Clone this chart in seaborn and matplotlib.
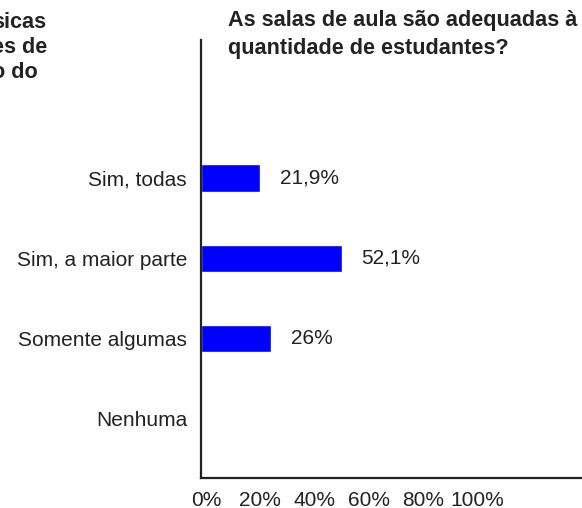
import pandas as pd
import seaborn as sns
import matplotlib.pyplot as plt
import matplotlib.transforms as mtransforms

# data
categories = ['Sim, todas', 'Sim, a maior parte', 'Somente algumas', 'Nenhuma']
percent = [21.9, 52.1, 26.0, 0.0]
value_labels = ['21,9%', '52,1%', '26%', '']
x_ticks = [0, 20, 40, 60, 80, 100]
x_tick_labels = ['0%', '20%', '40%', '60%', '80%', '100%']

title = 'As salas de aula são adequadas à\nquantidade de estudantes?'
# neighbouring chart's title, cut off at the left edge
clipped_title = 'sicas\nes de\no do'

df = pd.DataFrame({'categoria': categories, 'valor': percent})

sns.set_theme(style='white')
plt.rcParams['font.family'] = ['Liberation Sans', 'DejaVu Sans']
text_color = '#222222'

W, H = 582, 508
fig = plt.figure(figsize=(W / 100, H / 100), dpi=100)
ax = fig.add_axes([201 / W, 30 / H, (W - 201) / W, 438 / H])

sns.barplot(data=df, x='valor', y='categoria', orient='h', color='#0000ff',
            saturation=1, width=0.34, ax=ax)

ax.set_xlim(0, 140.6)
ax.set_ylim(3.74, -1.72)

ax.set_xticks(x_ticks)
ax.set_xticklabels(x_tick_labels, fontsize=15, color=text_color)
ax.tick_params(axis='x', length=0, pad=9)
ax.tick_params(axis='y', length=0, pad=10, labelsize=15, labelcolor=text_color)
ax.set_xlabel('')
ax.set_ylabel('')

# labels in the reference sit a little right of their ticks
shift = mtransforms.ScaledTranslation(5 / 100, 0, fig.dpi_scale_trans)
for lbl in ax.get_xticklabels():
    lbl.set_transform(lbl.get_transform() + shift)

for side in ['top', 'right']:
    ax.spines[side].set_visible(False)
for side in ['left', 'bottom']:
    ax.spines[side].set_color('#222222')
    ax.spines[side].set_linewidth(1.6)

ax.bar_label(ax.containers[0], labels=value_labels, padding=14,
             fontsize=15, color=text_color)

fig.text(228 / W, 1 - 10 / H, title, ha='left', va='top', fontsize=15.6,
         fontweight='bold', color=text_color, linespacing=1.42)
fig.text(-8 / W, 1 - 12 / H, clipped_title, ha='left', va='top', fontsize=15.6,
         fontweight='bold', color=text_color, linespacing=1.26)

fig.savefig('out.png', dpi=100)
